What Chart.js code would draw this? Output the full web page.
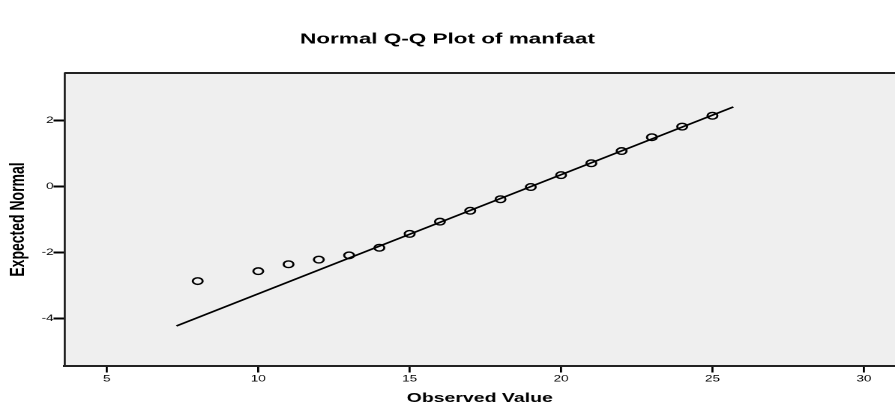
<!DOCTYPE html>
<html>
<head>
<meta charset="utf-8">
<script src="https://cdn.jsdelivr.net/npm/chart.js@4/dist/chart.umd.min.js"></script>
<style>
  html, body { margin: 0; background: #fff; overflow: hidden; }
  /* the original picture is stretched sideways, so the whole chart is too */
  #wrap { position: absolute; left: 0; top: 0; width: 597px; height: 405px; transform: scaleX(1.4992); transform-origin: 0 0; }
</style>
</head>
<body>
<div id="wrap"><canvas id="qq"></canvas></div>
<script>
const observed = [8, 10, 11, 12, 13, 14, 15, 16, 17, 18, 19, 20, 21, 22, 23, 24, 25];
const expected = [-2.86, -2.56, -2.35, -2.21, -2.08, -1.85, -1.43, -1.06, -0.73, -0.38, -0.01, 0.35, 0.71, 1.08, 1.50, 1.82, 2.15];
const lineX = [7.3, 25.69];
const lineY = [-4.22, 2.415];
const xTicks = [5, 10, 15, 20, 25, 30];
const yTicks = [-4, -2, 0, 2];

Chart.defaults.font.family = "'Liberation Sans', Arial, sans-serif";
Chart.defaults.color = '#000';

// grey plot background and the top edge of the frame
const plotFrame = {
  id: 'plotFrame',
  beforeDraw(chart) {
    const { ctx, chartArea: a } = chart;
    ctx.save();
    ctx.fillStyle = '#efefef';
    ctx.fillRect(a.left, a.top, a.right - a.left, a.bottom - a.top);
    ctx.restore();
  },
  afterDraw(chart) {
    const { ctx, chartArea: a } = chart;
    ctx.save();
    ctx.strokeStyle = '#222';
    ctx.lineWidth = 2;
    ctx.beginPath();
    ctx.moveTo(a.left, a.top);
    ctx.lineTo(a.right, a.top);
    ctx.stroke();
    ctx.restore();
  },
};

new Chart(document.getElementById('qq'), {
  type: 'scatter',
  data: {
    datasets: [
      {
        data: observed.map((x, i) => ({ x, y: expected[i] })),
        pointStyle: 'circle',
        pointRadius: 3.3,
        pointBorderWidth: 1.4,
        borderColor: '#000',
        backgroundColor: 'rgba(0,0,0,0)',
      },
      {
        data: lineX.map((x, i) => ({ x, y: lineY[i] })),
        showLine: true,
        pointRadius: 0,
        borderColor: '#000',
        borderWidth: 1.6,
      },
    ],
  },
  plugins: [plotFrame],
  options: {
    responsive: true,
    maintainAspectRatio: false,
    animation: false,
    devicePixelRatio: 2,
    layout: { padding: 0, autoPadding: false },
    plugins: {
      legend: { display: false },
      tooltip: { enabled: false },
      title: {
        display: true,
        text: 'Normal Q-Q Plot of manfaat',
        font: { size: 15, weight: 'bold' },
        color: '#000',
        padding: { top: 30.3, bottom: 24.7 },
      },
    },
    scales: {
      x: {
        type: 'linear',
        min: 3.6,
        max: 31.03,
        afterBuildTicks: scale => { scale.ticks = xTicks.map(value => ({ value })); },
        afterFit: scale => { scale.height = 39; },
        grid: { drawOnChartArea: false, drawTicks: true, tickLength: 6.5, color: '#000', lineWidth: 1.4 },
        border: { display: true, color: '#222', width: 2 },
        ticks: { font: { size: 9 }, color: '#000', padding: 1, maxRotation: 0 },
        title: {
          display: true,
          text: 'Observed Value',
          font: { size: 13, weight: 'bold', lineHeight: 1 },
          color: '#000',
          padding: { top: 0, bottom: 0 },
        },
      },
      y: {
        min: -5.433,
        max: 3.445,
        afterBuildTicks: scale => { scale.ticks = yTicks.map(value => ({ value })); },
        afterFit: scale => { scale.width = 43; },
        grid: { drawOnChartArea: false, drawTicks: true, tickLength: 7.3, color: '#000', lineWidth: 2 },
        border: { display: true, color: '#222', width: 1.4 },
        ticks: { font: { size: 9 }, color: '#000', padding: 0 },
        title: {
          display: true,
          text: 'Expected Normal',
          font: { size: 14, weight: 'bold' },
          color: '#000',
          padding: { top: 3.5, bottom: 0 },
        },
      },
    },
  },
});
</script>
</body>
</html>
